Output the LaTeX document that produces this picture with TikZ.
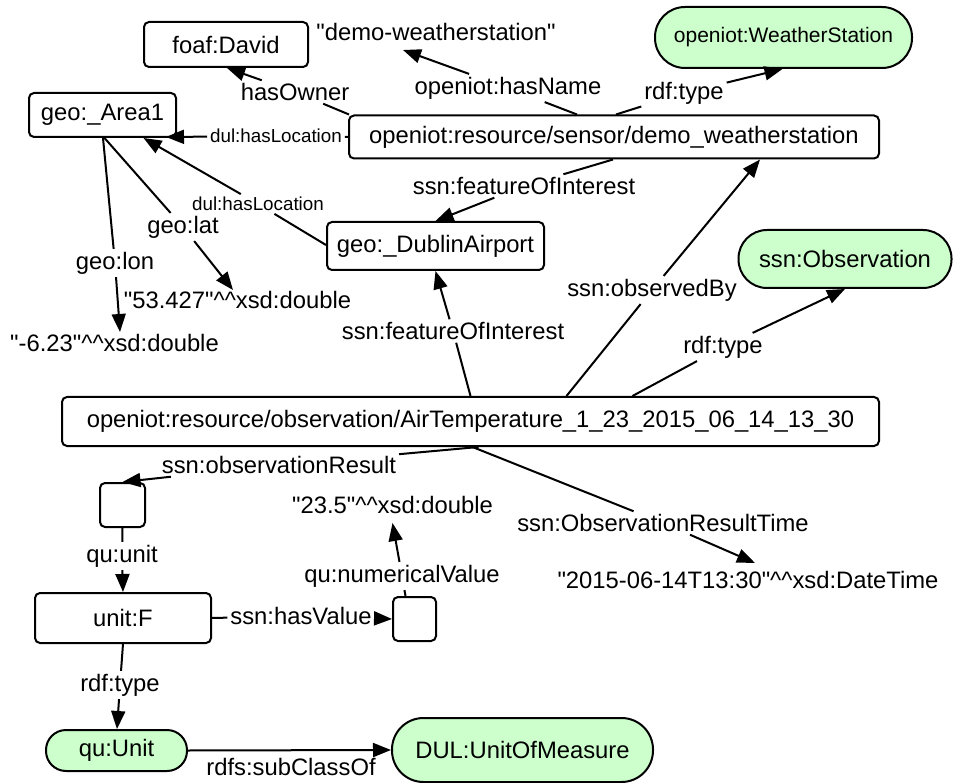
\documentclass[tikz,border=0pt]{standalone}
\usepackage{fontspec}
\setmainfont{Liberation Sans}
\usetikzlibrary{arrows.meta,calc}
\definecolor{clsgreen}{RGB}{204,255,204}
\tikzset{
  base/.style={font=\fontsize{23.8}{28}\selectfont},
  box/.style={draw, line width=2pt, rounded corners=5pt, inner sep=0pt, base},
  cls/.style={draw, line width=2pt, fill=clsgreen, inner sep=0pt, rounded corners=#1, base},
  lbl/.style={inner sep=3pt, outer sep=0pt, base},
  smalllbl/.style={inner sep=3pt, outer sep=0pt, font=\fontsize{18.8}{22}\selectfont},
  lit/.style={inner sep=2pt, base},
  con/.style={line width=2pt},
  arr/.style={con, -{Triangle[length=18pt,width=14pt]}},
}
\newcommand{\dc}{\textasciicircum\textasciicircum}
\newcommand{\qd}{\textquotedbl}
\begin{document}
\begin{tikzpicture}[x=1pt,y=-1pt]
\fill[white] (0,0) rectangle (953,783);
\useasboundingbox (0,0) rectangle (953,783);
% nodes
\node[box, minimum width=164pt, minimum height=45pt] (david) at (226,44.5) {foaf:David};
\node[lit] (demo) at (436,32) {\qd demo-weatherstation\qd};
\node[cls=30pt, minimum width=257pt, minimum height=61pt, font=\fontsize{21}{25}\selectfont] (ws) at (783.5,37.5) {openiot:WeatherStation};
\node[box, minimum width=147pt, minimum height=44pt] (area1) at (102.5,115) {geo:\_Area1};
\node[box, minimum width=530pt, minimum height=43pt] (sensor) at (614,137) {openiot:resource/sensor/demo\_weatherstation};
\node[box, minimum width=217pt, minimum height=48pt] (airport) at (435.5,246) {geo:\_DublinAirport};
\node[cls=28.5pt, minimum width=213pt, minimum height=58pt] (ssnobs) at (845,259) {ssn:Observation};
\node[box, minimum width=817pt, minimum height=49pt] (obs) at (470.5,421.5) {openiot:resource/observation/AirTemperature\_1\_23\_2015\_06\_14\_13\_30};
\node[lit] (lat) at (237.5,300) {\qd 53.427\qd\dc xsd:double};
\node[lit] (lon) at (114.5,343) {\qd -6.23\qd\dc xsd:double};
\node[box, minimum width=45pt, minimum height=44pt] (blank1) at (122.5,505) {};
\node[box, minimum width=176pt, minimum height=50pt] (unitF) at (123,618) {unit:F};
\node[box, minimum width=43pt, minimum height=44pt] (blank2) at (414.5,619) {};
\node[lit] (v235) at (392.5,505) {\qd 23.5\qd\dc xsd:double};
\node[lit] (dt) at (748,580) {\qd 2015-06-14T13:30\qd\dc xsd:DateTime};
\node[cls=20pt, minimum width=141pt, minimum height=41pt] (quUnit) at (116.5,750.5) {qu:Unit};
\node[cls=31.5pt, minimum width=261pt, minimum height=64pt] (dul) at (522.5,750) {DUL:UnitOfMeasure};
% labels
\node[lbl] (lOwner) at (295,92) {hasOwner};
\node[lbl] (lName) at (508,88) {openiot:hasName};
\node[lbl] (lWsType) at (684,93) {rdf:type};
\node[smalllbl] (lLoc1) at (276,136) {dul:hasLocation};
\node[smalllbl] (lLoc2) at (258,204) {dul:hasLocation};
\node[lbl] (lFoi1) at (524,186) {ssn:featureOfInterest};
\node[lbl] (lLon) at (115,263) {geo:lon};
\node[lbl] (lLat) at (183,227) {geo:lat};
\node[lbl] (lFoi2) at (453,331) {ssn:featureOfInterest};
\node[lbl] (lObsBy) at (652,290) {ssn:observedBy};
\node[lbl] (lObsType) at (723,347) {rdf:type};
\node[lbl] (lRes) at (279,465) {ssn:observationResult};
\node[lbl] (lUnit) at (122,556) {qu:unit};
\node[lbl] (lHasVal) at (301,616) {ssn:hasValue};
\node[lbl] (lNum) at (402,576) {qu:numericalValue};
\node[lbl] (lTime) at (663,523) {ssn:ObservationResultTime};
\node[lbl] (lType3) at (120,685) {rdf:type};
\node[lbl] (lSub) at (291,767) {rdfs:subClassOf};
% connectors
\draw[con] ($(sensor.north west)+(1,0)$) -- (lOwner);
\draw[arr] (lOwner) -- ($(david.south)+(1,0)$);
\draw[con] ($(sensor.north)+(-37,0)$) -- (lName);
\draw[arr] (lName) -- ($(demo.center)+(-33,18)$);
\draw[con] ($(sensor.north)+(2,0)$) -- (lWsType);
\draw[arr] (lWsType) -- ($(ws.south)+(-1,0)$);
\draw[con] (sensor.west) -- (lLoc1);
\draw[arr] (lLoc1) -- ($(area1.south east)+(-11,-1)$);
\draw[con] ($(airport.west)+(0,-1)$) -- (lLoc2);
\draw[arr] (lLoc2) -- ($(area1.south)+(41,0)$);
\draw[con] ($(sensor.south)+(-1,0)$) -- (lFoi1);
\draw[arr] (lFoi1) -- (airport.north);
\draw[con] ($(area1.south)+(0.5,0)$) -- (lLon);
\draw[arr] (lLon) -- ($(lon.center)+(5.5,-11)$);
\draw[con] ($(area1.south)+(2,0)$) -- (lLat);
\draw[arr] (lLat) -- ($(lat.center)+(-4.5,-10)$);
\draw[con] (obs.north) -- (lFoi2);
\draw[arr] (lFoi2) -- (airport.south);
\draw[con] ($(obs.north)+(96,0)$) -- (lObsBy);
\draw[arr] (lObsBy) -- ($(sensor.south)+(146,0)$);
\draw[con] ($(obs.north)+(162,0)$) -- (lObsType);
\draw[arr] (lObsType) -- (ssnobs.south);
\draw[con] ($(obs.south)+(8,0)$) -- (lRes);
\draw[arr] (lRes) -- (blank1.north);
\draw[con] (blank1.south) -- (lUnit);
\draw[arr] (lUnit) -- (unitF.north);
\draw[con] (unitF.east) -- (lHasVal);
\draw[arr] (lHasVal) -- (blank2.west);
\draw[con] ($(blank2.north)+(-9,0)$) -- (lNum);
\draw[arr] (lNum) -- ($(v235.center)+(0,18)$);
\draw[con] ($(obs.south)+(2,0)$) -- (lTime);
\draw[arr] (lTime) -- ($(dt.center)+(7,-17)$);
\draw[con] (unitF.south) -- (lType3);
\draw[arr] (lType3) -- ($(quUnit.north)+(0.5,0)$);
\draw[arr] (quUnit.east) -- (dul.west);
\end{tikzpicture}
\end{document}
